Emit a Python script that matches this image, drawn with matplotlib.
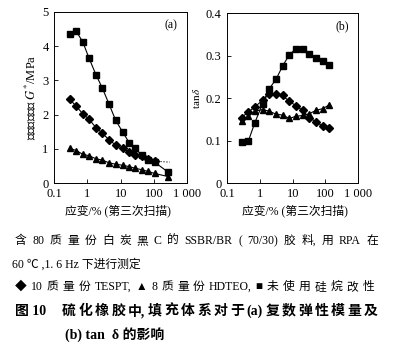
import numpy as np
import matplotlib
matplotlib.use("Agg")
from matplotlib import pyplot as plt

plt.rcParams['font.family'] = ['Liberation Serif', 'Noto Sans CJK SC', 'DejaVu Sans']
plt.rcParams['mathtext.fontset'] = 'stix'

# (a) complex modulus G*, MPa
strain_a = [0.29, 0.46, 0.73, 1.11, 1.8, 2.8, 4.5, 7.1, 11.5, 18, 27.6, 43, 66, 105, 265]
g_sq = [4.37, 4.44, 4.12, 3.66, 3.17, 2.78, 2.30, 1.83, 1.49, 1.18, 1.01, 0.81, 0.67, 0.61, 0.32]
strain_a_di = strain_a[:14]
g_di = [2.45, 2.25, 2.02, 1.87, 1.62, 1.46, 1.26, 1.11, 1.02, 0.90, 0.83, 0.78, 0.71, 0.64]
g_di_tail_x = [105, 300]
g_di_tail_y = [0.64, 0.61]
g_tr = [1.02, 0.95, 0.84, 0.80, 0.71, 0.67, 0.59, 0.55, 0.52, 0.48, 0.43, 0.39, 0.34, 0.28, 0.19]

# (b) tan delta
strain_b = [0.275, 0.44, 0.70, 1.21, 1.93, 3.1, 4.9, 7.9, 12.6, 20, 32, 51, 82, 131]
tan_sq = [0.097, 0.098, 0.142, 0.187, 0.222, 0.244, 0.275, 0.302, 0.316, 0.316, 0.303, 0.294, 0.286, 0.278]
tan_di = [0.154, 0.167, 0.179, 0.195, 0.209, 0.210, 0.206, 0.192, 0.182, 0.171, 0.154, 0.144, 0.134, 0.129]
tan_tr = [0.147, 0.157, 0.169, 0.173, 0.169, 0.162, 0.160, 0.152, 0.157, 0.159, 0.163, 0.171, 0.175, 0.184]

xticks = [0.1, 1, 10, 100, 1000]
xticklabels = ['0.1', '1', '10', '100', '1 000']

# caption text
cap1 = '含 80 质 量 份 白 炭 黑 C 的 SSBR/BR ( 70/30) 胶 料, 用 RPA 在'.split()
cap2 = '60 ℃ ,1. 6 Hz 下进行测定'
cap3 = '◆ 10 质 量 份 TESPT, ▲ 8 质 量 份 HDTEO, ■ 未 使 用 硅 烷 改 性'.split()
cap4_head = '图 10'
cap4 = '硫 化 橡 胶 中, 填 充 体 系 对 于 (a) 复 数 弹 性 模 量 及'.split()
cap5 = '(b) tan  δ 的影响'

W, H = 395, 352
fig = plt.figure(figsize=(W / 100, H / 100), dpi=100)
ax1 = fig.add_axes([0.137, 0.480, 0.337, 0.486])
ax2 = fig.add_axes([0.575, 0.480, 0.332, 0.483])

ms = 4.5
kw = dict(color='black', linewidth=0.8)
ax1.plot(strain_a, g_sq, marker='s', markersize=ms, **kw)
ax1.plot(strain_a_di, g_di, marker='D', markersize=ms - 0.5, **kw)
ax1.plot(g_di_tail_x, g_di_tail_y, linestyle=':', color='black', linewidth=0.8)
ax1.plot(strain_a, g_tr, marker='^', markersize=ms, **kw)

ax2.plot(strain_b, tan_sq, marker='s', markersize=ms, **kw)
ax2.plot(strain_b, tan_di, marker='D', markersize=ms - 0.5, **kw)
ax2.plot(strain_b, tan_tr, marker='^', markersize=ms, **kw)

for ax in (ax1, ax2):
    ax.set_xscale('log')
    ax.set_xlim(0.1, 1000)
    ax.set_xticks(xticks)
    ax.set_xticklabels(xticklabels)
    ax.minorticks_off()
    ax.tick_params(direction='in', labelsize=9, length=3, width=0.6, pad=3.5)
    ax.tick_params(axis='y', pad=4)
    for s in ax.spines.values():
        s.set_linewidth(0.7)

ax1.set_ylim(0, 5)
ax1.set_yticks([0, 1, 2, 3, 4, 5])
ax2.set_ylim(0, 0.4)
ax2.set_yticks([0, 0.1, 0.2, 0.3, 0.4])
ax2.set_yticklabels(['0', '0.1', '0.2', '0.3', '0.4'])

ax1.set_ylabel('复数弹性模量 $G^{*}$/MPa', fontsize=9, labelpad=3)
ax2.set_ylabel(r'tan$\,\delta$', fontsize=8, labelpad=3)
ax1.text(0.88, 0.92, '(a)', transform=ax1.transAxes, fontsize=8.5, ha='center', va='center')
ax2.text(0.88, 0.92, '(b)', transform=ax2.transAxes, fontsize=8.5, ha='center', va='center')

fig.text(118 / W, 1 - 211 / H, '应变/% (第三次扫描)', fontsize=8.5, ha='center', va='center')
fig.text(295 / W, 1 - 211 / H, '应变/% (第三次扫描)', fontsize=8.5, ha='center', va='center')

renderer = fig.canvas.get_renderer()


def justify(tokens, x0, x1, y, **kw):
    # spread the words evenly between x0 and x1 (pixels), like the typeset caption
    texts = [fig.text(0, 1 - y / H, t, ha='left', va='center', **kw) for t in tokens]
    widths = [t.get_window_extent(renderer).width for t in texts]
    gap = (x1 - x0 - sum(widths)) / (len(texts) - 1)
    x = x0
    for t, w in zip(texts, widths):
        t.set_x(x / W)
        x += w + gap


justify(cap1, 15, 378, 241, fontsize=8.5)
fig.text(12 / W, 1 - 264 / H, cap2, fontsize=8.5, ha='left', va='center')
justify(cap3, 15, 374, 287, fontsize=8.5)
fig.text(15 / W, 1 - 311 / H, cap4_head, fontsize=10, fontweight='bold', ha='left', va='center')
justify(cap4, 62, 378, 311, fontsize=10, fontweight='bold')
fig.text(65 / W, 1 - 335 / H, cap5, fontsize=10, fontweight='bold', ha='left', va='center')

fig.savefig('out.png', dpi=100)
